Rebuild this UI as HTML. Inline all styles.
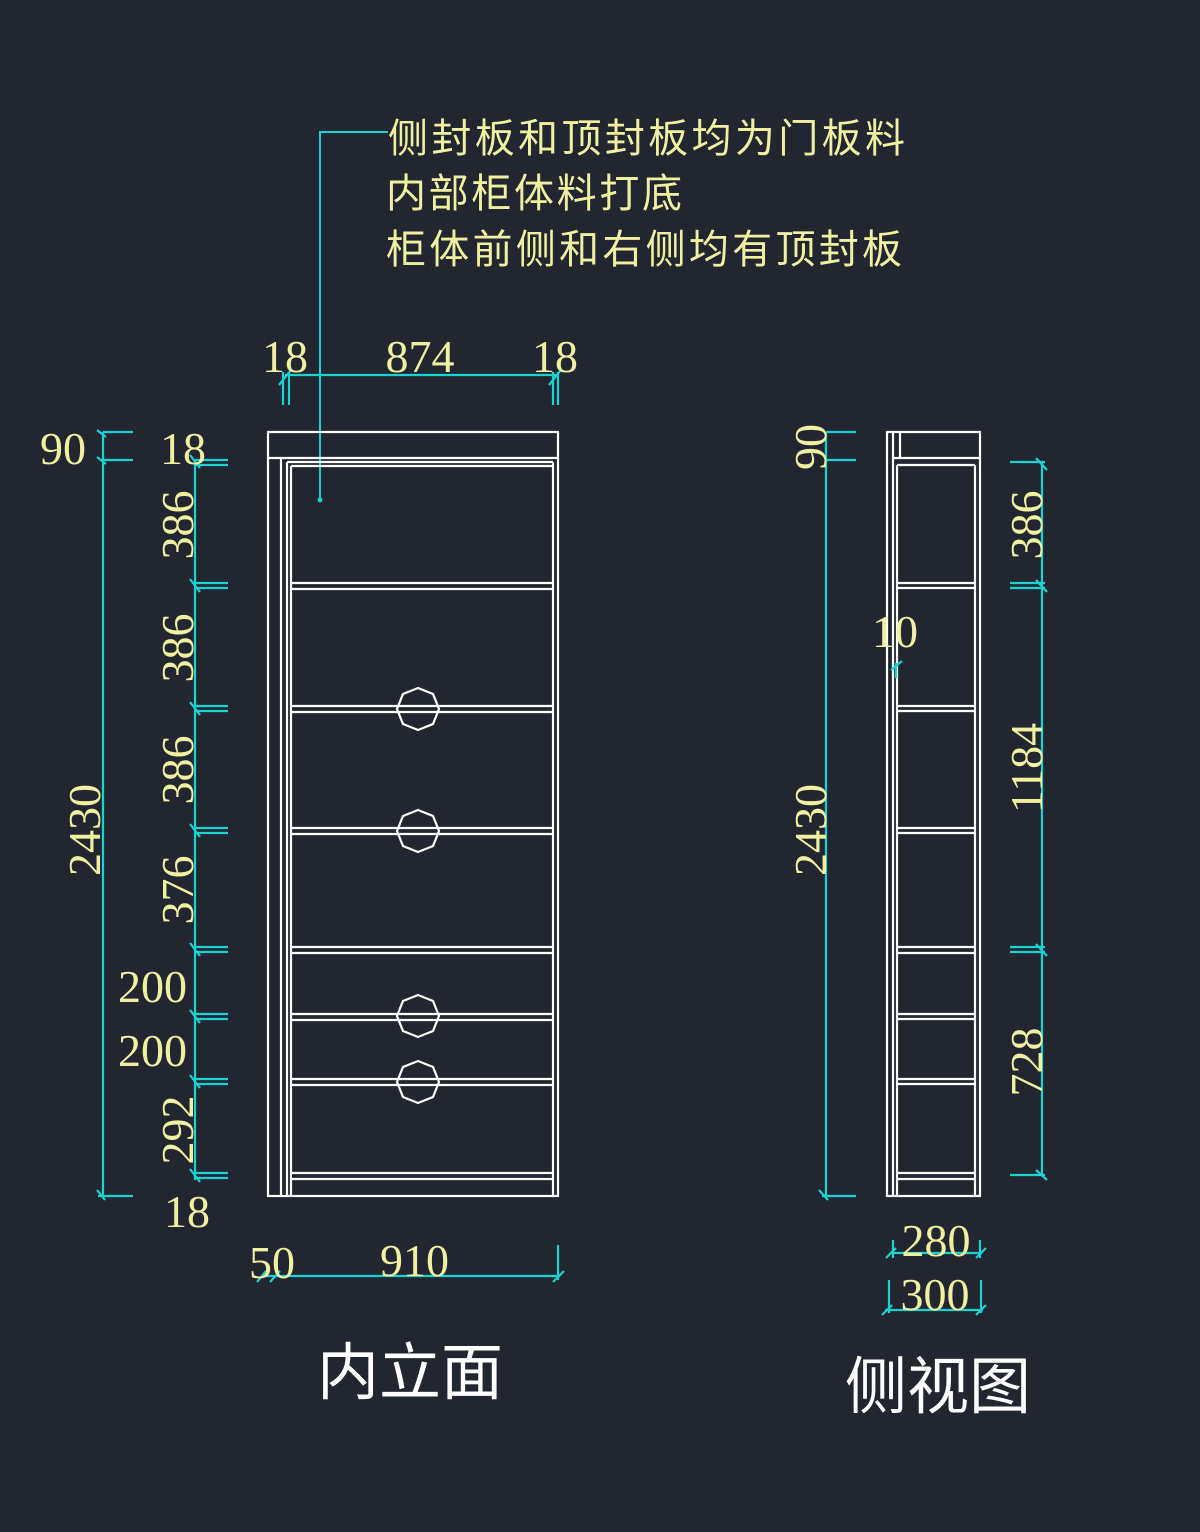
<!DOCTYPE html>
<html><head><meta charset="utf-8"><style>
html,body{margin:0;padding:0;background:#212630;}
svg{display:block}
.y{fill:#f0f0a0;font-family:"Liberation Serif",serif;font-size:46px;}
.c{fill:#f0f0a0;font-family:"Liberation Sans","Noto Sans CJK SC",sans-serif;font-size:40px;}
.t{fill:#ffffff;font-family:"Liberation Sans","Noto Sans CJK SC",sans-serif;font-size:62px;}
</style></head><body>
<svg width="1200" height="1532" viewBox="0 0 1200 1532" xmlns="http://www.w3.org/2000/svg">
<rect width="1200" height="1532" fill="#212630"/>
<!-- leader -->
<g stroke="#19d3d3" stroke-width="2" fill="none">
<polyline points="320,500 320,132 388,132"/>
</g>
<circle cx="320" cy="500" r="2.5" fill="#19d3d3"/>
<text class="c" x="388" y="152" textLength="517">侧封板和顶封板均为门板料</text>
<text class="c" x="386" y="207" textLength="296">内部柜体料打底</text>
<text class="c" x="386" y="263" textLength="516">柜体前侧和右侧均有顶封板</text>

<!-- FRONT VIEW -->
<g stroke="#ffffff" stroke-width="2.2" fill="none">
<rect x="268" y="432" width="290" height="764"/>
<line x1="268" y1="458" x2="558" y2="458"/>
<line x1="281" y1="458" x2="281" y2="1196"/>
<line x1="287" y1="462" x2="287" y2="1196"/>
<line x1="553" y1="462" x2="553" y2="1196"/>
<line x1="287" y1="462" x2="553" y2="462"/>
<line x1="291" y1="466" x2="553" y2="466"/>
<line x1="291" y1="466" x2="291" y2="1196"/>
<g id="sh">
<line x1="291" y1="583" x2="553" y2="583"/><line x1="291" y1="589" x2="553" y2="589"/>
<line x1="291" y1="706" x2="553" y2="706"/><line x1="291" y1="712" x2="553" y2="712"/>
<line x1="291" y1="828" x2="553" y2="828"/><line x1="291" y1="834" x2="553" y2="834"/>
<line x1="291" y1="947" x2="553" y2="947"/><line x1="291" y1="953" x2="553" y2="953"/>
<line x1="291" y1="1014" x2="553" y2="1014"/><line x1="291" y1="1020" x2="553" y2="1020"/>
<line x1="291" y1="1079" x2="553" y2="1079"/><line x1="291" y1="1085" x2="553" y2="1085"/>
<line x1="291" y1="1173" x2="553" y2="1173"/><line x1="291" y1="1179" x2="553" y2="1179"/>
</g>
<polygon points="418,688 433,694 439,709 433,724 418,730 403,724 397,709 403,694"/>
<polygon points="418,810 433,816 439,831 433,846 418,852 403,846 397,831 403,816"/>
<polygon points="418,995 433,1001 439,1016 433,1031 418,1037 403,1031 397,1016 403,1001"/>
<polygon points="418,1061 433,1067 439,1082 433,1097 418,1103 403,1097 397,1082 403,1067"/>
</g>

<!-- front dims -->
<g stroke="#19d3d3" stroke-width="2.2" fill="none">
<!-- top -->
<line x1="285" y1="375" x2="556" y2="375"/>
<line x1="283" y1="372" x2="283" y2="405"/><line x1="289" y1="372" x2="289" y2="405"/>
<line x1="553" y1="372" x2="553" y2="405"/><line x1="558" y1="372" x2="558" y2="405"/>
<line x1="279" y1="385" x2="291" y2="370"/><line x1="549" y1="385" x2="561" y2="370"/>
<!-- left 2430 -->
<line x1="103" y1="432" x2="103" y2="1196"/>
<line x1="103" y1="432" x2="133" y2="432"/><line x1="103" y1="460" x2="133" y2="460"/>
<line x1="98" y1="1196" x2="133" y2="1196"/>
<line x1="97" y1="1190" x2="105" y2="1200"/>
<line x1="97" y1="430" x2="106" y2="437"/><line x1="97" y1="457" x2="106" y2="464"/>
<!-- inner -->
<line x1="195" y1="462" x2="195" y2="1180"/>
<g>
<line x1="195" y1="460" x2="228" y2="460"/><line x1="195" y1="465" x2="228" y2="465"/>
<line x1="195" y1="583" x2="228" y2="583"/><line x1="195" y1="588" x2="228" y2="588"/>
<line x1="195" y1="706" x2="228" y2="706"/><line x1="195" y1="711" x2="228" y2="711"/>
<line x1="195" y1="828" x2="228" y2="828"/><line x1="195" y1="833" x2="228" y2="833"/>
<line x1="195" y1="947" x2="228" y2="947"/><line x1="195" y1="952" x2="228" y2="952"/>
<line x1="195" y1="1014" x2="228" y2="1014"/><line x1="195" y1="1019" x2="228" y2="1019"/>
<line x1="195" y1="1079" x2="228" y2="1079"/><line x1="195" y1="1084" x2="228" y2="1084"/>
<line x1="195" y1="1173" x2="228" y2="1173"/><line x1="195" y1="1178" x2="228" y2="1178"/>
<line x1="190" y1="455" x2="200" y2="468"/><line x1="190" y1="579" x2="200" y2="592"/>
<line x1="190" y1="702" x2="200" y2="715"/><line x1="190" y1="824" x2="200" y2="837"/>
<line x1="190" y1="943" x2="200" y2="956"/><line x1="190" y1="1010" x2="200" y2="1023"/>
<line x1="190" y1="1075" x2="200" y2="1088"/><line x1="190" y1="1169" x2="200" y2="1182"/>
</g>
<!-- bottom -->
<line x1="262" y1="1276" x2="560" y2="1276"/>
<line x1="558" y1="1245" x2="558" y2="1280"/>
<line x1="553" y1="1282" x2="564" y2="1271"/>
<line x1="257" y1="1282" x2="266" y2="1271"/><line x1="270" y1="1282" x2="280" y2="1271"/>
</g>
<text class="y" x="285" y="372" text-anchor="middle">18</text>
<text class="y" x="420" y="372" text-anchor="middle">874</text>
<text class="y" x="555" y="372" text-anchor="middle">18</text>
<text class="y" x="40" y="464">90</text>
<text class="y" x="160" y="464">18</text>
<text class="y" transform="translate(193,525) rotate(-90)" text-anchor="middle">386</text>
<text class="y" transform="translate(193,648) rotate(-90)" text-anchor="middle">386</text>
<text class="y" transform="translate(193,770) rotate(-90)" text-anchor="middle">386</text>
<text class="y" transform="translate(193,890) rotate(-90)" text-anchor="middle">376</text>
<text class="y" transform="translate(193,1130) rotate(-90)" text-anchor="middle">292</text>
<text class="y" transform="translate(100,830) rotate(-90)" text-anchor="middle">2430</text>
<text class="y" x="118" y="1002">200</text>
<text class="y" x="118" y="1066">200</text>
<text class="y" x="164" y="1227">18</text>
<text class="y" x="249" y="1278">50</text>
<text class="y" x="380" y="1276">910</text>
<text class="t" x="317" y="1394">内立面</text>

<!-- SIDE VIEW -->
<g stroke="#ffffff" stroke-width="2.2" fill="none">
<rect x="887" y="432" width="93" height="764"/>
<line x1="893" y1="432" x2="893" y2="1196"/>
<line x1="900" y1="432" x2="900" y2="458"/>
<line x1="893" y1="458" x2="980" y2="458"/>
<line x1="897" y1="465" x2="975" y2="465"/>
<line x1="897" y1="465" x2="897" y2="1196"/>
<line x1="975" y1="465" x2="975" y2="1196"/>
<g>
<line x1="898" y1="583" x2="975" y2="583"/><line x1="898" y1="588" x2="975" y2="588"/>
<line x1="898" y1="706" x2="975" y2="706"/><line x1="898" y1="711" x2="975" y2="711"/>
<line x1="898" y1="828" x2="975" y2="828"/><line x1="898" y1="833" x2="975" y2="833"/>
<line x1="897" y1="947" x2="975" y2="947"/><line x1="897" y1="953" x2="975" y2="953"/>
<line x1="898" y1="1014" x2="975" y2="1014"/><line x1="898" y1="1019" x2="975" y2="1019"/>
<line x1="898" y1="1079" x2="975" y2="1079"/><line x1="898" y1="1084" x2="975" y2="1084"/>
<line x1="897" y1="1173" x2="975" y2="1173"/><line x1="897" y1="1179" x2="975" y2="1179"/>
</g>
</g>
<g stroke="#19d3d3" stroke-width="2.2" fill="none">
<line x1="826" y1="432" x2="826" y2="1196"/>
<line x1="826" y1="432" x2="856" y2="432"/><line x1="826" y1="460" x2="856" y2="460"/>
<line x1="822" y1="1196" x2="856" y2="1196"/>
<line x1="819" y1="1190" x2="828" y2="1200"/>
<line x1="1042" y1="462" x2="1042" y2="1175"/>
<line x1="1010" y1="462" x2="1045" y2="462"/>
<line x1="1010" y1="583" x2="1045" y2="583"/><line x1="1010" y1="588" x2="1045" y2="588"/>
<line x1="1010" y1="947" x2="1045" y2="947"/><line x1="1010" y1="952" x2="1045" y2="952"/>
<line x1="1010" y1="1175" x2="1045" y2="1175"/>
<line x1="1036" y1="458" x2="1047" y2="470"/><line x1="1036" y1="580" x2="1047" y2="592"/>
<line x1="1036" y1="944" x2="1047" y2="956"/><line x1="1036" y1="1170" x2="1047" y2="1180"/>
<line x1="896" y1="663" x2="896" y2="678"/><line x1="891" y1="670" x2="902" y2="661"/>
<line x1="890" y1="1253" x2="982" y2="1253"/>
<line x1="893" y1="1240" x2="893" y2="1258"/><line x1="980" y1="1240" x2="980" y2="1258"/>
<line x1="885" y1="1310" x2="983" y2="1310"/>
<line x1="889" y1="1280" x2="889" y2="1313"/><line x1="981" y1="1280" x2="981" y2="1313"/>
<line x1="886" y1="1258" x2="896" y2="1248"/><line x1="976" y1="1258" x2="986" y2="1248"/>
<line x1="882" y1="1315" x2="892" y2="1305"/><line x1="976" y1="1315" x2="986" y2="1305"/>
</g>
<text class="y" transform="translate(826,447) rotate(-90)" text-anchor="middle">90</text>
<text class="y" transform="translate(826,830) rotate(-90)" text-anchor="middle">2430</text>
<text class="y" transform="translate(1042,525) rotate(-90)" text-anchor="middle">386</text>
<text class="y" transform="translate(1042,768) rotate(-90)" text-anchor="middle">1184</text>
<text class="y" transform="translate(1042,1062) rotate(-90)" text-anchor="middle">728</text>
<text class="y" x="872" y="647">10</text>
<text class="y" x="936" y="1256" text-anchor="middle">280</text>
<text class="y" x="935" y="1310" text-anchor="middle">300</text>
<text class="t" x="845" y="1408">侧视图</text>
</svg>
</body></html>
